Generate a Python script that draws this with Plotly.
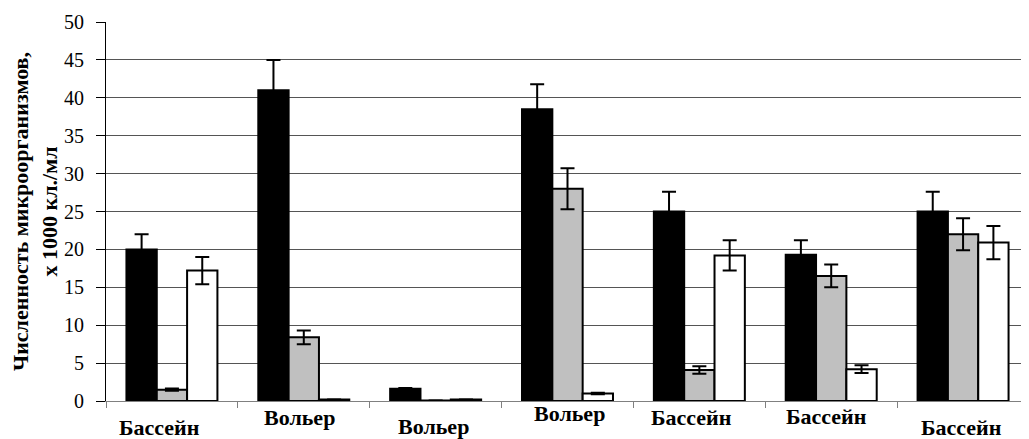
import plotly.graph_objects as go

categories = ["Бассейн", "Вольер", "Вольер", "Вольер", "Бассейн", "Бассейн", "Бассейн"]
black_vals = [20.0, 41.0, 1.6, 38.5, 25.0, 19.3, 25.0]
black_err = [2.0, 4.0, 0.1, 3.3, 2.6, 1.9, 2.6]
gray_vals = [1.5, 8.4, 0.05, 28.0, 4.1, 16.5, 22.0]
gray_err = [0.15, 0.9, 0.0, 2.7, 0.5, 1.5, 2.1]
white_vals = [17.2, 0.2, 0.2, 1.0, 19.2, 4.2, 20.9]
white_err = [1.8, 0.0, 0.0, 0.1, 2.0, 0.5, 2.2]
y_ticks = [0, 5, 10, 15, 20, 25, 30, 35, 40, 45, 50]

# style: offsets (px) of each category label
label_yshift = [-26, -16, -25, -12, -16, -15, -26]
label_xshift = [-12, -4, -2, 2, -8, -5, -2]

xpos = list(range(len(categories)))
SERIF = "Liberation Serif"

fig = go.Figure()
for vals, errs, color in [(black_vals, black_err, "#000000"),
                          (gray_vals, gray_err, "#c0c0c0"),
                          (white_vals, white_err, "#ffffff")]:
    fig.add_trace(go.Bar(
        x=xpos, y=vals,
        marker=dict(color=color, line=dict(color="#000000", width=2)),
        error_y=dict(type="data", array=errs, visible=True, color="#000000", thickness=2, width=7),
        showlegend=False,
    ))

for i, (cat, ys, xs) in enumerate(zip(categories, label_yshift, label_xshift)):
    fig.add_annotation(x=i, y=0, xref="x", yref="y", text="<b>" + cat + "</b>",
                       showarrow=False, yshift=ys, xshift=xs, yanchor="middle",
                       font=dict(family=SERIF, size=22, color="#000000"))

# page body has an 8px margin, so the figure is 8px smaller on each axis
fig.update_layout(
    width=1021, height=431,
    margin=dict(l=98, r=0, t=14, b=38, autoexpand=False),
    paper_bgcolor="#ffffff", plot_bgcolor="#ffffff",
    barmode="group", bargap=0.31, bargroupgap=0,
    font=dict(family=SERIF, size=20, color="#000000"),
)
fig.update_xaxes(
    range=[-0.5, len(categories) - 0.5],
    tickvals=[i - 0.5 for i in range(len(categories) + 1)],
    ticktext=[""] * (len(categories) + 1),
    ticks="outside", ticklen=6, tickcolor="#808080",
    showline=True, linecolor="#808080", linewidth=1,
    showgrid=False, zeroline=False,
)
fig.update_yaxes(
    range=[0, 50], tickvals=y_ticks,
    ticks="outside", ticklen=9, tickcolor="#000000",
    ticklabelstandoff=8,
    showline=True, linecolor="#000000", linewidth=1,
    showgrid=True, gridcolor="#555555", gridwidth=1, zeroline=False,
    tickfont=dict(family=SERIF, size=20, color="#000000"),
    title=dict(text="<b>Численность микроорганизмов,<br>x 1000 кл./мл</b>",
               font=dict(family=SERIF, size=22, color="#000000"), standoff=8),
)
fig.write_html("out.html")
